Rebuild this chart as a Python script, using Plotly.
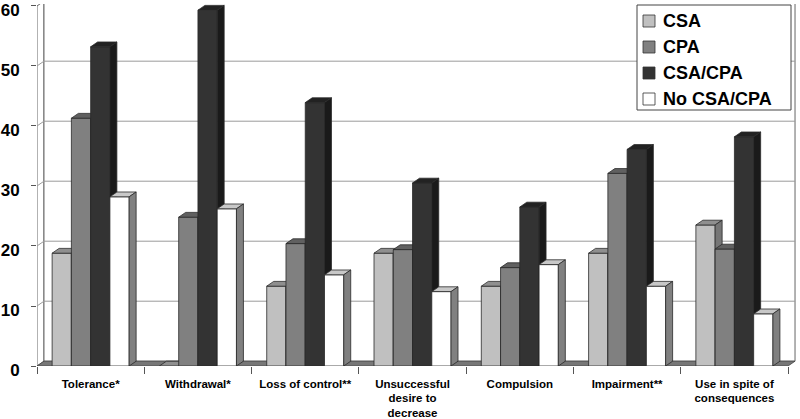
import plotly.graph_objects as go

# data (percent)
categories = ["Tolerance*", "Withdrawal*", "Loss of control**",
              "Unsuccessful<br>desire to<br>decrease", "Compulsion",
              "Impairment**", "Use in spite of<br>consequences"]
series_names = ["CSA", "CPA", "CSA/CPA", "No CSA/CPA"]
csa = [18.8, 0, 13.3, 18.8, 13.3, 18.8, 23.5]
cpa = [41.3, 24.8, 20.4, 19.4, 16.4, 32.1, 19.5]
csa_cpa = [53.2, 59.3, 43.9, 30.5, 26.5, 36.1, 38.2]
no_csa_cpa = [28.2, 26.2, 15.2, 12.4, 16.9, 13.3, 8.7]
y_ticks = [0, 10, 20, 30, 40, 50, 60]

series = [csa, cpa, csa_cpa, no_csa_cpa]
# front, top, side colours for the fake 3d columns
face_colors = [
    ("#c0c0c0", "#8f8f8f", "#767676"),
    ("#808080", "#606060", "#555555"),
    ("#333333", "#222222", "#1a1a1a"),
    ("#ffffff", "#c8c8c8", "#808080"),
]
edge = "#2a2a2a"
FONT = "Liberation Sans, Arial, sans-serif"

W, H = 800, 419
M_L, M_R, M_T, M_B = 37, 4, 4, 53
n_cat = len(categories)
x_max = 7.074
y_max = 60.33
dx, dy = 0.065, 0.8          # depth offset in data units
group_w = 0.718
bar_w = group_w / len(series)


def px_to_paper(px, py):
    return (px - M_L) / (W - M_L - M_R), (H - M_B - py) / (H - M_T - M_B)


def poly(xs, ys, fill, line=edge, width=0.8):
    return go.Scatter(x=xs + [xs[0]], y=ys + [ys[0]], mode="lines", fill="toself",
                      fillcolor=fill, line=dict(color=line, width=width),
                      hoverinfo="skip", showlegend=False)


fig = go.Figure()

top = y_ticks[-1]
# walls and floor
fig.add_trace(poly([0, dx, dx, 0], [0, dy, top + dy, top], "white", "#666666", 1))
fig.add_trace(poly([dx, n_cat + dx, n_cat + dx, dx], [dy, dy, top + dy, top + dy], "white", "#666666", 1))
fig.add_trace(poly([0, n_cat, n_cat + dx, dx], [0, 0, dy, dy], "#777777", "#444444", 0.8))

gx, gy = [], []
for v in y_ticks[1:-1]:
    gx += [0, dx, n_cat + dx, None]
    gy += [v, v + dy, v + dy, None]
fig.add_trace(go.Scatter(x=gx, y=gy, mode="lines", line=dict(color="#9a9a9a", width=1),
                         hoverinfo="skip", showlegend=False))

# columns, painted left to right so the next front face hides the previous side
for i in range(n_cat):
    for j, vals in enumerate(series):
        h = vals[i]
        L = i + 0.5 - group_w / 2 + j * bar_w
        R = L + bar_w
        front, topc, side = face_colors[j]
        if h > 0:
            fig.add_trace(poly([L, R, R, L], [0, 0, h, h], front))
        fig.add_trace(poly([L, R, R + dx, L + dx], [h, h, h + dy, h + dy], topc))
        if h > 0:
            fig.add_trace(poly([R, R + dx, R + dx, R], [0, dy, h + dy, h], side))

# legend box drawn by hand to match the original placement
shapes = []
annotations = []
x0, y0 = px_to_paper(637, 5)
x1, y1 = px_to_paper(791, 110)
shapes.append(dict(type="rect", xref="paper", yref="paper", x0=x0, y0=y1, x1=x1, y1=y0,
                   line=dict(color="#444444", width=1), fillcolor="white", layer="above"))
for k, name in enumerate(series_names):
    cy = 21 + k * 26
    sx0, sy0 = px_to_paper(643, cy - 6)
    sx1, sy1 = px_to_paper(655, cy + 6)
    shapes.append(dict(type="rect", xref="paper", yref="paper", x0=sx0, y0=sy1, x1=sx1, y1=sy0,
                       line=dict(color="#333333", width=0.8), fillcolor=face_colors[k][0],
                       layer="above"))
    tx, ty = px_to_paper(661, cy)
    annotations.append(dict(xref="paper", yref="paper", x=tx, y=ty, xanchor="left", yanchor="middle",
                            text=name, showarrow=False,
                            font=dict(family=FONT, size=18, color="black", weight="bold")))

fig.update_layout(
    width=W, height=H,
    margin=dict(l=M_L, r=M_R, t=M_T, b=M_B),
    plot_bgcolor="white", paper_bgcolor="white",
    showlegend=False,
    shapes=shapes, annotations=annotations,
    xaxis=dict(range=[0, x_max], tickvals=[i + 0.5 for i in range(n_cat)], ticktext=categories,
               ticks="", showgrid=False, zeroline=False, showline=False, automargin=False,
               ticklabelstandoff=9,
               tickfont=dict(family=FONT, size=11.5, color="black", weight="bold"),
               minor=dict(tickvals=list(range(n_cat + 1)), ticks="outside", ticklen=7,
                          tickcolor="#555555", showgrid=False)),
    yaxis=dict(range=[0, y_max], tickvals=y_ticks, ticks="outside", ticklen=5,
               tickcolor="#555555", showgrid=False, zeroline=False, showline=False,
               automargin=False, ticklabeloverflow="allow", ticklabelstandoff=8,
               ticklabelshift=4,
               tickfont=dict(family=FONT, size=17, color="black", weight="bold")),
)

# the page's default body margin would shift the figure by 8px
fig.write_html("out.html", config={"displayModeBar": False},
               post_script="document.body.style.margin='0';")
